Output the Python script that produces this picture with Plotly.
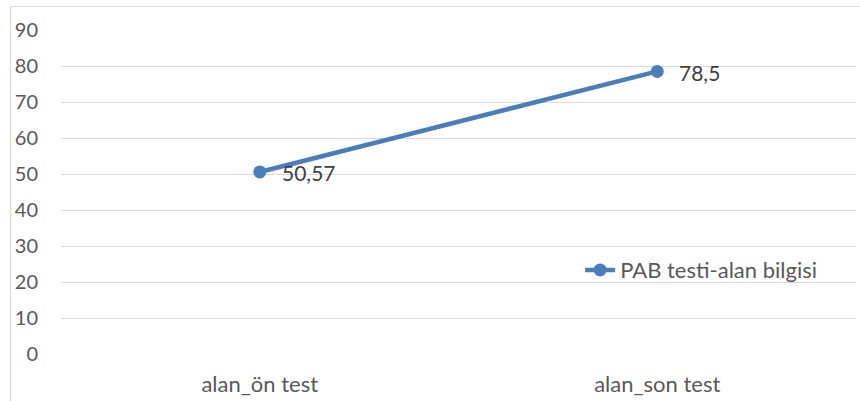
import plotly.graph_objects as go

categories = ["alan_ön test", "alan_son test"]
values = [50.57, 78.5]
series_name = "PAB testi-alan bilgisi"
y_ticks = [0, 10, 20, 30, 40, 50, 60, 70, 80, 90]

labels = [str(v).replace(".", ",") for v in values]

line_color = "#4A7EBB"
text_color = "#595959"
grid_color = "#D9D9D9"
font_family = "Lato, Carlito, Calibri, sans-serif"

fig = go.Figure()
fig.add_trace(go.Scatter(
    x=categories,
    y=values,
    mode="lines+markers",
    name=series_name,
    line=dict(color=line_color, width=4.5),
    marker=dict(color=line_color, size=13),
    cliponaxis=False,
))

# value labels to the right of each point
annotations = [
    dict(
        x=c, y=v, xref="x", yref="y", text=t, showarrow=False,
        xanchor="left", yanchor="middle", xshift=20, yshift=-1,
        font=dict(size=21, color="#404040", family=font_family),
    )
    for c, v, t in zip(categories, values, labels)
]

fig.update_layout(
    width=860,
    height=401,
    margin=dict(l=61, r=4, t=30, b=47),
    paper_bgcolor="white",
    plot_bgcolor="white",
    font=dict(family=font_family, size=20, color=text_color),
    showlegend=True,
    legend=dict(
        x=0.653, y=0.259, xanchor="left", yanchor="middle",
        bgcolor="rgba(0,0,0,0)",
        font=dict(size=22, color=text_color, family=font_family),
    ),
    annotations=annotations,
    xaxis=dict(
        type="category",
        range=[-0.5, 1.5],
        showgrid=False,
        showline=False,
        zeroline=False,
        ticks="",
        tickfont=dict(size=22, color=text_color),
        ticklabelstandoff=15,
    ),
    yaxis=dict(
        range=[0, 90],
        tickvals=y_ticks,
        showgrid=True,
        gridcolor=grid_color,
        gridwidth=1.2,
        zeroline=False,
        showline=False,
        ticks="",
        tickfont=dict(size=20, color=text_color),
        ticklabelstandoff=22,
    ),
    shapes=[
        dict(
            type="rect", xref="paper", yref="paper",
            x0=(10.5 - 61) / 795, x1=1.2,
            y0=-0.3, y1=1 + (30 - 6.5) / 324,
            line=dict(color=grid_color, width=1.2),
            fillcolor="rgba(0,0,0,0)",
            layer="below",
        )
    ],
)

fig.write_html("out.html")
